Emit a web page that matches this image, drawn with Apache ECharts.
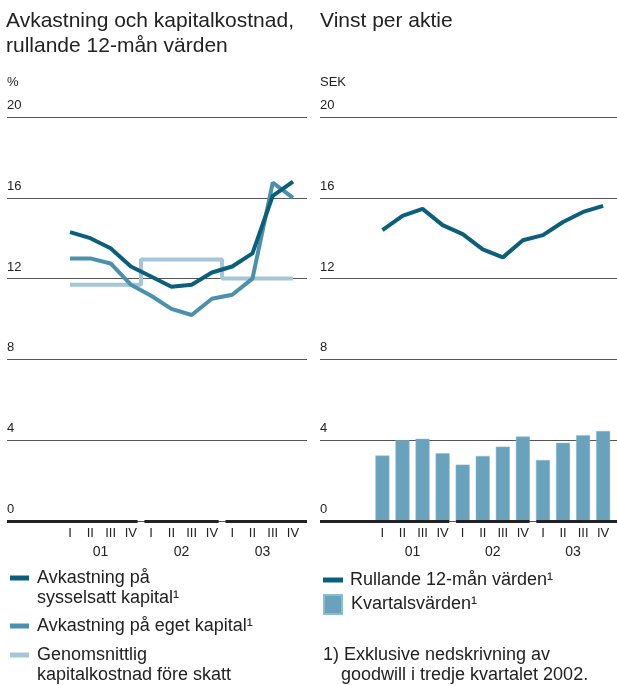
<!DOCTYPE html>
<html>
<head>
<meta charset="utf-8">
<script src="https://cdn.jsdelivr.net/npm/echarts@6/dist/echarts.min.js"></script>
<style>
  html, body { margin: 0; padding: 0; background: #fff; }
  #chart { width: 617px; height: 685px; }
</style>
</head>
<body>
<div id="chart"></div>
<script>
// kvartal och år (x-axel)
var quarters = ['I', 'II', 'III', 'IV', 'I', 'II', 'III', 'IV', 'I', 'II', 'III', 'IV'];
var years = ['01', '02', '03'];
var yTicks = [0, 4, 8, 12, 16, 20];

// vänster diagram, %
var sysselsatt = [14.3, 14.0, 13.5, 12.6, 12.1, 11.6, 11.7, 12.3, 12.6, 13.25, 16.1, 16.8];
var egetKapital = [13.0, 13.0, 12.75, 11.7, 11.15, 10.5, 10.2, 11.0, 11.2, 12.0, 16.75, 16.0];
var kapitalkostnad = [11.7, 11.7, 11.7, 11.7, 12.95, 12.95, 12.95, 12.95, 12.0, 12.0, 12.0, 12.0];

// höger diagram, SEK
var rullande = [14.4, 15.1, 15.45, 14.65, 14.2, 13.45, 13.05, 13.9, 14.15, 14.8, 15.3, 15.6];
var kvartal = [3.24, 4.0, 4.07, 3.35, 2.79, 3.22, 3.68, 4.18, 3.02, 3.87, 4.25, 4.46];

var names = {
  syss: 'Avkastning på sysselsatt kapital¹',
  eget: 'Avkastning på eget kapital¹',
  kost: 'Genomsnittlig kapitalkostnad före skatt',
  rull: 'Rullande 12-mån värden¹',
  kvar: 'Kvartalsvärden¹'
};
// tom första rad så att ikonen hamnar vid första textraden
var legendText = {};
legendText[names.syss] = '\nAvkastning på\nsysselsatt kapital¹';
legendText[names.kost] = '\nGenomsnittlig\nkapitalkostnad före skatt';

var FONT = 'Liberation Sans';
var TXT = '#222';
var DARK = '#0b5f7b';
var MID = '#4b90ad';
var LIGHT = '#a4c6d8';
var BAR = '#68a2bd';

var xMin = -3.11, xMax = 11.69;

function pts(arr) {
  return arr.map(function (v, i) { return [i, v]; });
}

// tjock baslinje, bruten mellan åren
function baseSegments() {
  var gap = 0.17;
  return years.map(function (y, k) {
    var a = k === 0 ? xMin : k * 4 - 0.5 + gap;
    var b = k === years.length - 1 ? xMax : k * 4 + 3.5 - gap;
    return [{ coord: [a, 0] }, { coord: [b, 0] }];
  });
}

function baseMark() {
  return {
    silent: true,
    symbol: ['none', 'none'],
    label: { show: false },
    lineStyle: { color: '#222', width: 3, type: 'solid' },
    data: baseSegments()
  };
}

function quarterAxis(gi) {
  return {
    type: 'value', gridIndex: gi, position: 'bottom', min: xMin, max: xMax,
    axisLine: { show: false, onZero: false }, axisTick: { show: false }, splitLine: { show: false },
    axisLabel: {
      customValues: quarters.map(function (q, i) { return i; }),
      formatter: function (v) { return quarters[Math.round(v)]; },
      margin: 6, fontSize: 13, color: TXT, fontFamily: FONT
    }
  };
}

function yearAxis(gi) {
  return {
    type: 'value', gridIndex: gi, position: 'bottom', min: xMin, max: xMax,
    axisLine: { show: false, onZero: false }, axisTick: { show: false }, splitLine: { show: false },
    axisLabel: {
      customValues: years.map(function (y, k) { return k * 4 + 1.5; }),
      formatter: function (v) { return years[Math.floor(v / 4)]; },
      margin: 24, fontSize: 14, color: TXT, fontFamily: FONT
    }
  };
}

function valueAxis(gi, unit) {
  return {
    type: 'value', gridIndex: gi, min: yTicks[0], max: yTicks[yTicks.length - 1], interval: 4,
    name: unit, nameLocation: 'end', nameGap: 35,
    nameTextStyle: { align: 'left', verticalAlign: 'middle', fontSize: 13, color: TXT, fontFamily: FONT },
    axisLine: { show: false, onZero: false }, axisTick: { show: false },
    axisLabel: {
      inside: true, margin: 0, verticalAlign: 'bottom', padding: [0, 0, 5, 0],
      fontSize: 13, color: TXT, fontFamily: FONT
    },
    splitLine: { lineStyle: { color: '#555', width: 1 } }
  };
}

function legendItem(name, left, top, w, h, gapLeft) {
  return {
    data: [name], left: left, top: top, padding: 0, orient: 'vertical',
    selectedMode: false, icon: 'rect', itemWidth: w, itemHeight: h, itemGap: 0,
    formatter: function (n) { return legendText[n] || n; },
    textStyle: {
      fontSize: 18, lineHeight: 20, color: TXT, fontFamily: FONT,
      padding: [0, 0, 0, gapLeft]
    }
  };
}

var chart = echarts.init(document.getElementById('chart'));
chart.setOption({
  backgroundColor: '#fff',
  animation: false,
  textStyle: { fontFamily: FONT },
  title: [
    {
      text: 'Avkastning och kapitalkostnad,\nrullande 12-mån värden',
      left: 6, top: 9, padding: 0,
      textStyle: { fontSize: 21, lineHeight: 25, fontWeight: 'normal', color: TXT, fontFamily: FONT }
    },
    {
      text: 'Vinst per aktie',
      left: 320, top: 9, padding: 0,
      textStyle: { fontSize: 21, lineHeight: 25, fontWeight: 'normal', color: TXT, fontFamily: FONT }
    }
  ],
  grid: [
    { left: 7, top: 117, width: 300, height: 404 },
    { left: 320, top: 117, width: 300, height: 404 }
  ],
  xAxis: [quarterAxis(0), yearAxis(0), quarterAxis(1), yearAxis(1)],
  yAxis: [valueAxis(0, '%'), valueAxis(1, 'SEK')],
  legend: [
    legendItem(names.syss, 10, 548, 19, 5, 3),
    legendItem(names.eget, 10, 616, 19, 5, 3),
    legendItem(names.kost, 10, 625, 19, 5, 3),
    legendItem(names.rull, 323, 570, 20, 5, 2),
    legendItem(names.kvar, 323, 594, 18, 19, 4)
  ],
  series: [
    {
      name: names.kost, type: 'line', step: 'middle', xAxisIndex: 0, yAxisIndex: 0,
      data: pts(kapitalkostnad), symbol: 'none', color: LIGHT,
      lineStyle: { width: 4, color: LIGHT }, z: 2,
      markLine: baseMark()
    },
    {
      name: names.eget, type: 'line', xAxisIndex: 0, yAxisIndex: 0,
      data: pts(egetKapital), symbol: 'none', color: MID,
      lineStyle: { width: 4, color: MID }, z: 3
    },
    {
      name: names.syss, type: 'line', xAxisIndex: 0, yAxisIndex: 0,
      data: pts(sysselsatt), symbol: 'none', color: DARK,
      lineStyle: { width: 4, color: DARK }, z: 4
    },
    {
      name: names.kvar, type: 'bar', xAxisIndex: 2, yAxisIndex: 1,
      data: pts(kvartal), barWidth: 14, color: BAR,
      itemStyle: { color: BAR, borderColor: '#8dbcd1', borderWidth: 0.5 }
    },
    {
      name: names.rull, type: 'line', xAxisIndex: 2, yAxisIndex: 1,
      data: pts(rullande), symbol: 'none', color: DARK,
      lineStyle: { width: 4, color: DARK }, z: 4,
      markLine: baseMark()
    }
  ],
  graphic: [
    {
      type: 'text', left: 323, top: 646,
      style: { text: '1) Exklusive nedskrivning av', font: '18px "' + FONT + '"', fill: TXT }
    },
    {
      type: 'text', left: 341, top: 666,
      style: { text: 'goodwill i tredje kvartalet 2002.', font: '18px "' + FONT + '"', fill: TXT }
    }
  ]
});
</script>
</body>
</html>
